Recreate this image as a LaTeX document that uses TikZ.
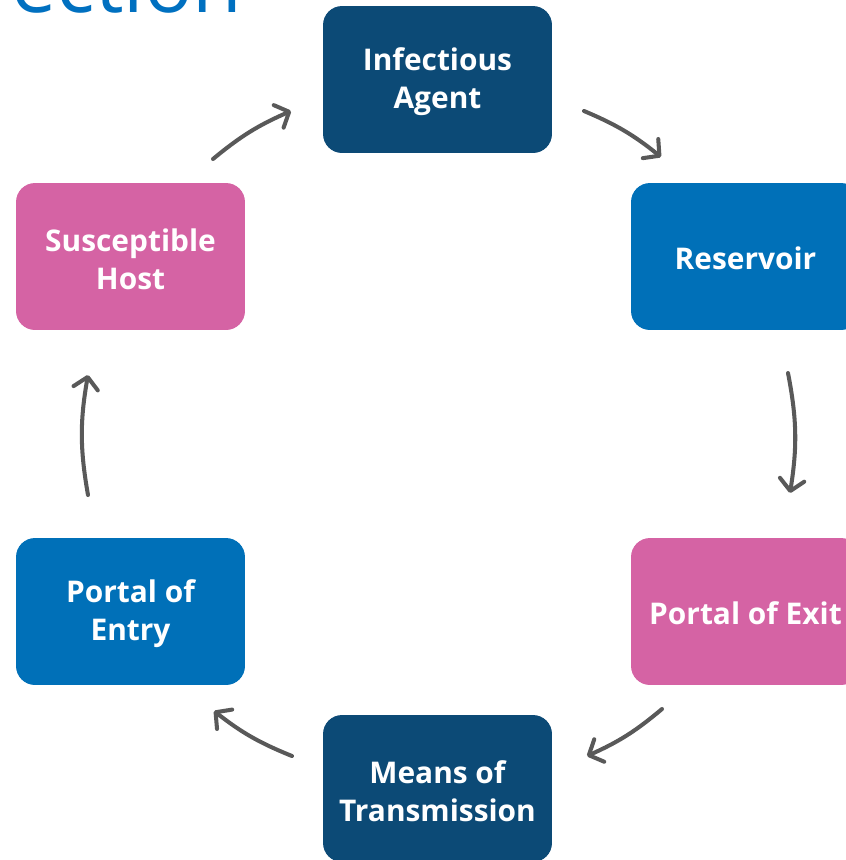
\documentclass[tikz,border=0pt]{standalone}
\usepackage{fontspec}
\setmainfont{Open Sans}
\usetikzlibrary{arrows.meta}
\definecolor{navy}{HTML}{0C4A76}
\definecolor{mblue}{HTML}{0070B8}
\definecolor{pinkc}{HTML}{D563A4}
\definecolor{titleblue}{HTML}{0070C0}
\definecolor{arrgray}{HTML}{595959}
\tikzset{
  box/.style={rounded corners=0.38cm, minimum width=4.58cm, minimum height=2.94cm,
    inner sep=0pt, text=white, align=center,
    font=\fontsize{17}{21.5}\selectfont\bfseries},
  boxtext/.style={inner sep=0pt, text=white, align=center,
    font=\fontsize{17}{21.5}\selectfont\bfseries},
  flow/.style={draw=arrgray, line width=2.3pt, line cap=round,
    -{Straight Barb[length=6.5pt,width=14pt,line cap=round,line join=round]}},
}
\begin{document}
\begin{tikzpicture}[x=0.02cm,y=-0.02cm]
\useasboundingbox (0,0) rectangle (846,860);
\clip (0,0) rectangle (846,860);
\node[anchor=base west, inner sep=0pt, text=titleblue, font=\fontsize{46}{46}\selectfont] (title) at (11,12) {ection};
\node[box, fill=navy] (agent) at (437.5,79.5) {};
\node[boxtext] (agentt) at (437.5,82) {Infectious\\Agent};
\node[box, fill=mblue] (res) at (745.5,256.5) {};
\node[boxtext] (rest) at (745.5,258) {Reservoir};
\node[box, fill=pinkc] (exit) at (745.5,611.5) {};
\node[boxtext] (exitt) at (745.5,613) {Portal of Exit};
\node[box, fill=navy] (means) at (437.5,788.5) {};
\node[boxtext] (meanst) at (437.5,791) {Means of\\Transmission};
\node[box, fill=mblue] (entry) at (130.5,611.5) {};
\node[boxtext] (entryt) at (130.5,614) {Portal of\\Entry};
\node[box, fill=pinkc] (host) at (130.5,256.5) {};
\node[boxtext] (hostt) at (130.5,259) {Susceptible\\Host};
\coordinate (a1s) at (213,159);
\coordinate (a1e) at (291,111);
\coordinate (a2s) at (584,111);
\coordinate (a2e) at (661,157);
\coordinate (a3s) at (788,373);
\coordinate (a3e) at (790,493);
\coordinate (a4s) at (662,709);
\coordinate (a4e) at (587,756);
\coordinate (a5s) at (292,756);
\coordinate (a5e) at (214,711);
\coordinate (a6s) at (88,495);
\coordinate (a6e) at (88,375);
\draw[flow] (a1s) to[bend left=8] (a1e);
\draw[flow] (a2s) to[bend left=8] (a2e);
\draw[flow] (a3s) to[bend left=10] (a3e);
\draw[flow] (a4s) to[bend left=8] (a4e);
\draw[flow] (a5s) to[bend left=8] (a5e);
\draw[flow] (a6s) to[bend left=10] (a6e);
\end{tikzpicture}
\end{document}
